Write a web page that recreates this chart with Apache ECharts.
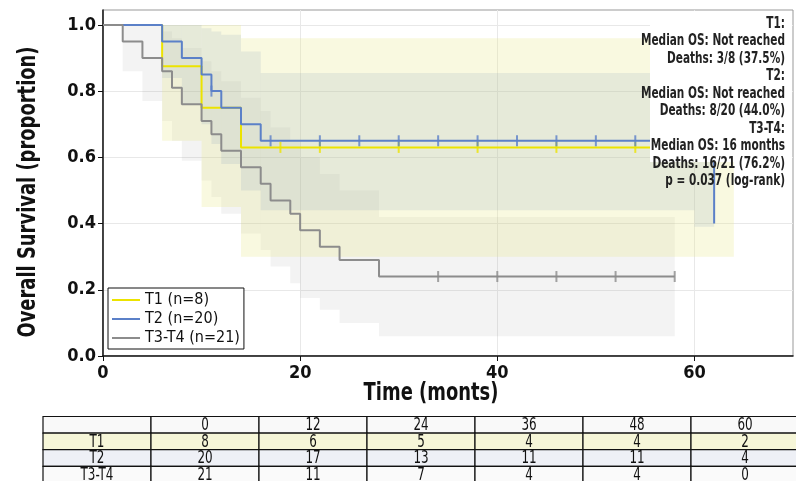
<!DOCTYPE html>
<html>
<head>
<meta charset="utf-8">
<script src="https://cdn.jsdelivr.net/npm/echarts@6/dist/echarts.min.js"></script>
<style>
  html, body { margin: 0; padding: 0; background: #fff; }
  #km_chart { width: 796px; height: 481px; }
</style>
</head>
<body>
<div id="km_chart"></div>
<script>
// survival steps
var t1Time = [0, 6, 10, 14, 64];
var t1Surv = [1.0, 0.875, 0.75, 0.63, 0.63];
var t1Cens = [18, 22, 30, 38, 46, 54];

var t2Time = [0, 6, 8, 10, 11, 12, 14, 16, 62];
var t2Surv = [1.0, 0.95, 0.90, 0.85, 0.80, 0.75, 0.70, 0.65, 0.40];
var t2Cens = [11, 17, 22, 26, 30, 34, 38, 42, 46, 50, 54];

var t34Time = [0, 2, 4, 6, 7, 8, 10, 11, 12, 14, 16, 17, 19, 20, 22, 24, 28, 58];
var t34Surv = [1.0, 0.95, 0.90, 0.86, 0.81, 0.76, 0.71, 0.67, 0.62, 0.57, 0.52, 0.47, 0.43, 0.38, 0.33, 0.29, 0.24, 0.24];
var t34Cens = [34, 40, 46, 52, 58];

// confidence bands: [from, to, lower, upper]
var t1Band = [[6, 10, 0.65, 1.0], [10, 14, 0.45, 1.0], [14, 64, 0.30, 0.96]];
var t2Band = [[6, 8, 0.84, 1.0], [8, 10, 0.76, 1.0], [10, 11, 0.70, 0.99], [11, 12, 0.64, 0.98],
              [12, 14, 0.58, 0.97], [14, 16, 0.50, 0.92], [16, 60, 0.44, 0.855], [60, 62, 0.39, 0.855]];
var t34Band = [[2, 4, 0.86, 1.0], [4, 6, 0.77, 1.0], [6, 7, 0.71, 0.98], [7, 8, 0.65, 0.96],
               [8, 10, 0.59, 0.93], [10, 11, 0.53, 0.89], [11, 12, 0.48, 0.86], [12, 14, 0.43, 0.83],
               [14, 16, 0.37, 0.78], [16, 17, 0.32, 0.74], [17, 19, 0.27, 0.69], [19, 20, 0.22, 0.65],
               [20, 22, 0.175, 0.60], [22, 24, 0.14, 0.55], [24, 28, 0.10, 0.50], [28, 58, 0.06, 0.42]];

var seriesNames = ['T1 (n=8)', 'T2 (n=20)', 'T3-T4 (n=21)'];
var xTicks = [0, 20, 40, 60];
var yTicks = [0, 0.2, 0.4, 0.6, 0.8, 1.0];

var noteLines = ['T1:', 'Median OS: Not reached', 'Deaths: 3/8 (37.5%)',
                 'T2:', 'Median OS: Not reached', 'Deaths: 8/20 (44.0%)',
                 'T3-T4:', 'Median OS: 16 months', 'Deaths: 16/21 (76.2%)',
                 'p = 0.037 (log-rank)'];

// number at risk table
var riskTimes = [0, 12, 24, 36, 48, 60];
var riskLabels = ['T1', 'T2', 'T3-T4'];
var riskT1 = [8, 6, 5, 4, 4, 2];
var riskT2 = [20, 17, 13, 11, 11, 4];
var riskT34 = [21, 11, 7, 4, 4, 0];

var NARROW = "'Liberation Sans Narrow', 'DejaVu Sans Condensed', sans-serif";

function pairs(xs, ys) {
    var out = [];
    for (var i = 0; i < xs.length; i++) out.push([xs[i], ys[i]]);
    return out;
}

function survAt(xs, ys, t) {
    var v = ys[0];
    for (var i = 0; i < xs.length; i++) {
        if (xs[i] <= t) v = ys[i];
    }
    return v;
}

function censPoints(xs, ys, cens) {
    return cens.map(function (t) { return [t, survAt(xs, ys, t)]; });
}

function bandSeries(data, fill) {
    return {
        type: 'custom',
        silent: true,
        z: 1,
        data: data,
        renderItem: function (params, api) {
            var p0 = api.coord([api.value(0), api.value(3)]);
            var p1 = api.coord([api.value(1), api.value(2)]);
            return {
                type: 'rect',
                shape: {x: p0[0], y: p0[1], width: p1[0] - p0[0], height: p1[1] - p0[1]},
                style: {fill: fill}
            };
        }
    };
}

function stepSeries(name, xs, ys, color) {
    return {
        name: name,
        type: 'line',
        step: 'end',
        z: 3,
        symbol: 'none',
        data: pairs(xs, ys),
        lineStyle: {color: color, width: 2},
        itemStyle: {color: color}
    };
}

function censSeries(xs, ys, cens, color) {
    return {
        type: 'scatter',
        z: 4,
        silent: true,
        symbol: 'rect',
        symbolSize: [2, 11],
        data: censPoints(xs, ys, cens),
        itemStyle: {color: color}
    };
}

// table drawn with graphic elements
function buildTable() {
    var left = 43, top = 416.5, colW = 108, rowH = 16.6;
    var rows = [[''].concat(riskTimes),
                [riskLabels[0]].concat(riskT1),
                [riskLabels[1]].concat(riskT2),
                [riskLabels[2]].concat(riskT34)];
    var fills = ['#f9f9f9', '#f6f6d8', '#eef0f6', '#fafafa'];
    var els = [];
    for (var r = 0; r < rows.length; r++) {
        for (var c = 0; c < rows[r].length; c++) {
            els.push({
                type: 'rect',
                shape: {x: left + c * colW, y: top + r * rowH, width: colW, height: rowH},
                style: {fill: fills[r], stroke: '#111', lineWidth: 1.2}
            });
            els.push({
                type: 'text',
                x: left + c * colW + colW / 2,
                y: top + r * rowH + rowH / 2 + 1,
                scaleX: 0.78,
                style: {
                    text: String(rows[r][c]), align: 'center', verticalAlign: 'middle',
                    font: '17px ' + NARROW, fill: '#111'
                }
            });
        }
    }
    return els;
}

var km_chart = echarts.init(document.getElementById('km_chart'));

var option = {
    animation: false,
    backgroundColor: '#fff',
    grid: {
        left: 103, right: 3, top: 10, bottom: 125,
        show: true, borderColor: '#999', borderWidth: 1
    },
    legend: {
        data: seriesNames,
        icon: 'rect',
        orient: 'vertical',
        left: 108, top: 288,
        backgroundColor: '#fff',
        borderColor: '#111', borderWidth: 1, borderRadius: 0,
        padding: [3, 4, 2, 4],
        itemGap: 1, itemWidth: 28, itemHeight: 2,
        textStyle: {fontFamily: NARROW, fontSize: 16, color: '#111', lineHeight: 18}
    },
    xAxis: {
        type: 'value', min: 0, max: 70, interval: 20,
        axisLine: {lineStyle: {color: '#111', width: 1.5}},
        axisTick: {length: 5, customValues: xTicks, lineStyle: {color: '#111'}},
        axisLabel: {customValues: xTicks, margin: 8, fontFamily: NARROW, fontWeight: 'bold', fontSize: 18, color: '#111'},
        splitLine: {show: true, lineStyle: {color: '#e8e8e8'}}
    },
    yAxis: {
        type: 'value', min: 0, max: 1.045, interval: 0.2,
        axisLine: {lineStyle: {color: '#111', width: 1.5}},
        axisTick: {length: 5, customValues: yTicks, lineStyle: {color: '#111'}},
        axisLabel: {
            customValues: yTicks, margin: 7, fontFamily: NARROW, fontWeight: 'bold', fontSize: 18, color: '#111',
            formatter: function (v) { return v.toFixed(1); }
        },
        splitLine: {show: true, lineStyle: {color: '#e8e8e8'}}
    },
    series: [
        bandSeries(t34Band, 'rgba(160,160,160,0.12)'),
        bandSeries(t1Band, 'rgba(230,230,130,0.25)'),
        bandSeries(t2Band, 'rgba(120,150,180,0.15)'),
        stepSeries(seriesNames[0], t1Time, t1Surv, '#ece300'),
        stepSeries(seriesNames[1], t2Time, t2Surv, '#5b80c8'),
        stepSeries(seriesNames[2], t34Time, t34Surv, '#8c8c8c'),
        censSeries(t1Time, t1Surv, t1Cens, '#ece300'),
        censSeries(t2Time, t2Surv, t2Cens, '#5b80c8'),
        censSeries(t34Time, t34Surv, t34Cens, '#8c8c8c')
    ],
    graphic: [
        // axis titles, condensed like the original
        {
            type: 'text', x: 431, y: 394, scaleX: 0.83,
            style: {text: 'Time (monts)', align: 'center', verticalAlign: 'middle',
                    font: 'bold 24px ' + NARROW, fill: '#111'}
        },
        {
            type: 'text', x: 29, y: 192, rotation: Math.PI / 2, scaleX: 0.83,
            style: {text: 'Overall Survival (proportion)', align: 'center', verticalAlign: 'middle',
                    font: 'bold 24px ' + NARROW, fill: '#111'}
        },
        {type: 'rect', z: 10, shape: {x: 650, y: 11, width: 142, height: 151}, style: {fill: '#fff'}},
        {
            type: 'text', z: 11, x: 785, y: 15, scaleX: 0.78,
            style: {
                text: noteLines.join('\n'), align: 'right', verticalAlign: 'top',
                font: 'bold 15px ' + NARROW, lineHeight: 17.5, fill: '#222'
            }
        }
    ].concat(buildTable())
};

km_chart.setOption(option);
</script>
</body>
</html>
